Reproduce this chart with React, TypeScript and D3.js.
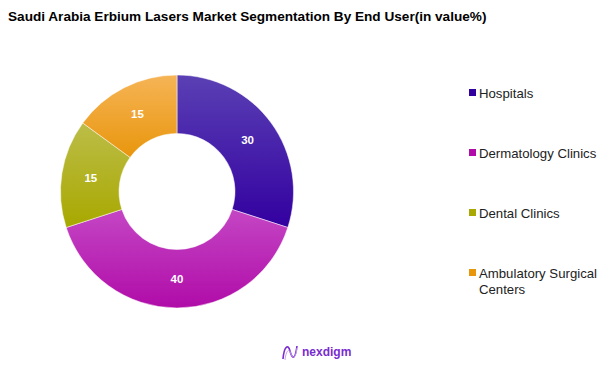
import React, { useRef, useEffect } from "react";
import * as d3 from "d3";

// chart data
const categories = ["Hospitals", "Dermatology Clinics", "Dental Clinics", "Ambulatory Surgical Centers"];
const values = [30, 40, 15, 15];
const colorTop = ["#5a40b4", "#c446c4", "#bcbd48", "#f6b456"];
const colorBottom = ["#3300a0", "#b00ca8", "#a8a800", "#e8960c"];
const legendLines = [["Hospitals"], ["Dermatology Clinics"], ["Dental Clinics"], ["Ambulatory Surgical", "Centers"]];

const App = () => {
  const svgRef = useRef(null);

  useEffect(() => {
    if (!svgRef.current) return;
    const width = 602;
    const height = 369;
    const svg = d3.select(svgRef.current).attr("width", width).attr("height", height);
    svg.selectAll("*").remove();

    // gradients, one per slice
    const defs = svg.append("defs");
    categories.forEach((c, i) => {
      const g = defs
        .append("linearGradient")
        .attr("id", `grad${i}`)
        .attr("x1", 0).attr("y1", 0).attr("x2", 0).attr("y2", 1);
      g.append("stop").attr("offset", "0%").attr("stop-color", colorTop[i]);
      g.append("stop").attr("offset", "100%").attr("stop-color", colorBottom[i]);
    });

    svg
      .append("text")
      .attr("x", 8)
      .attr("y", 21)
      .text("Saudi Arabia Erbium Lasers Market Segmentation By End User(in value%)")
      .style("font-family", "Liberation Sans, Arial, sans-serif")
      .style("font-weight", "bold")
      .style("font-size", "13.6px")
      .style("fill", "#000");

    const cx = 177;
    const cy = 191.5;
    const outer = 116.5;
    const inner = 58;

    const pie = d3.pie<number>().sort(null).value((d) => d);
    const arcs = pie(values);
    const arc = d3.arc<d3.PieArcDatum<number>>().innerRadius(inner).outerRadius(outer);

    const container = svg.append("g").attr("transform", `translate(${cx}, ${cy})`);

    container
      .selectAll("path")
      .data(arcs)
      .enter()
      .append("path")
      .attr("d", arc)
      .style("fill", (d, i) => `url(#grad${i})`)
      .style("stroke", "#fff")
      .style("stroke-width", 0.5);

    container
      .selectAll("text.lbl")
      .data(arcs)
      .enter()
      .append("text")
      .attr("class", "lbl")
      .attr("transform", (d) => `translate(${arc.centroid(d)})`)
      .attr("text-anchor", "middle")
      .attr("dy", "0.35em")
      .text((d) => d.data)
      .style("font-family", "Liberation Sans, Arial, sans-serif")
      .style("font-weight", "bold")
      .style("font-size", "11.5px")
      .style("fill", "#fff");

    // legend
    const legend = svg.append("g").attr("transform", "translate(469, 93)");
    const items = legend
      .selectAll("g")
      .data(categories)
      .enter()
      .append("g")
      .attr("transform", (d, i) => `translate(0, ${i * 60})`);

    items
      .append("rect")
      .attr("x", 0)
      .attr("y", -4)
      .attr("width", 7)
      .attr("height", 7)
      .style("fill", (d, i) => colorBottom[i]);

    items.each(function (d, i) {
      const t = d3
        .select(this)
        .append("text")
        .attr("x", 10)
        .attr("y", 4.5)
        .style("font-family", "Liberation Sans, Arial, sans-serif")
        .style("font-size", "13.2px")
        .style("fill", "#222");
      legendLines[i].forEach((line, j) => {
        t.append("tspan").attr("x", 10).attr("dy", j === 0 ? 0 : 16).text(line);
      });
    });

    // logo
    const logo = svg.append("g").attr("transform", "translate(282, 343)");
    logo
      .append("path")
      .attr("d", "M1,16 C2,4 6,0 8,8 C10,16 13,18 15,3")
      .style("fill", "none")
      .style("stroke", "#7a2bd0")
      .style("stroke-width", 1.6);
    logo
      .append("path")
      .attr("d", "M3,17 C4,8 7,4 9,11 C11,17 14,14 15,5")
      .style("fill", "none")
      .style("stroke", "#c9a0ef")
      .style("stroke-width", 1);
    logo
      .append("text")
      .attr("x", 20)
      .attr("y", 13)
      .text("nexdigm")
      .style("font-family", "Liberation Sans, Arial, sans-serif")
      .style("font-weight", "bold")
      .style("font-size", "12px")
      .style("fill", "#7a2bd0");
  }, []);

  return (
    <div style={{ position: "absolute", left: 0, top: 0 }}>
      <svg ref={svgRef} />
    </div>
  );
};

export default App;
